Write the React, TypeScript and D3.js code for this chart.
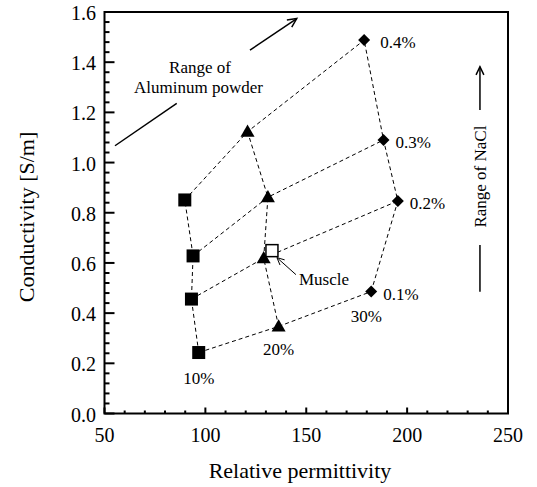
import React from "react";
import * as d3 from "d3";

// ---- data ----
const naclLabels = ["0.1%", "0.2%", "0.3%", "0.4%"];
const alLabels = ["10%", "20%", "30%"];
const perm10 = [96.7, 93.1, 93.9, 89.8];
const cond10 = [0.243, 0.456, 0.628, 0.851];
const perm20 = [136.3, 128.9, 131.0, 120.9];
const cond20 = [0.347, 0.619, 0.862, 1.123];
const perm30 = [182.2, 195.4, 188.3, 178.7];
const cond30 = [0.486, 0.847, 1.09, 1.488];
const musclePerm = 133;
const muscleCond = 0.649;
const xTicks = [50, 100, 150, 200, 250];
const yTicks = [0, 0.2, 0.4, 0.6, 0.8, 1.0, 1.2, 1.4, 1.6];

const W = 537;
const H = 487;
const FONT = "'Liberation Serif', 'Times New Roman', serif";

export default function App() {
  const x = d3.scaleLinear().domain([50, 250]).range([104.5, 508]);
  const y = d3.scaleLinear().domain([0, 1.6]).range([413.5, 12]);
  const line = d3
    .line<[number, number]>()
    .x((d) => x(d[0]))
    .y((d) => y(d[1]));

  const groups = [
    { perm: perm10, cond: cond10 },
    { perm: perm20, cond: cond20 },
    { perm: perm30, cond: cond30 },
  ];

  // dashed polylines: columns (same aluminum) and rows (same NaCl)
  const paths: string[] = [];
  groups.forEach((g) => {
    paths.push(line(g.perm.map((p, i) => [p, g.cond[i]] as [number, number]))!);
  });
  naclLabels.forEach((_, i) => {
    paths.push(line(groups.map((g) => [g.perm[i], g.cond[i]] as [number, number]))!);
  });

  const xMinor = d3.range(50, 250.01, 10);
  const yMinor = d3.range(0, 1.6001, 0.04);

  const sq = 13;
  const tri = d3.symbol().type(d3.symbolTriangle).size(85)();
  const dia = d3.symbol().type(d3.symbolSquare).size(72)();

  const arrowHead = (x1: number, y1: number, x2: number, y2: number, len = 9) => {
    const a = Math.atan2(y2 - y1, x2 - x1);
    const s = 0.45;
    return `M${x2 - len * Math.cos(a - s)},${y2 - len * Math.sin(a - s)}L${x2},${y2}L${
      x2 - len * Math.cos(a + s)
    },${y2 - len * Math.sin(a + s)}`;
  };

  // annotation anchors (data coords)
  const alLow = [[55.2, 1.067], [85.8, 1.236]];
  const alArr = [[122.1, 1.448], [145.3, 1.574]];
  const naX = 236.1;
  const naArr = [1.209, 1.382];
  const naLine = [0.485, 0.671];
  const naText = 0.944;

  const mx = x(musclePerm);
  const my = y(muscleCond);

  return (
    <svg
      width={W}
      height={H}
      style={{ position: "absolute", left: 0, top: 0, background: "#fff" }}
      fontFamily={FONT}
    >
      <rect x={0} y={0} width={W} height={H} fill="#fff" />
      {/* frame */}
      <rect
        x={x(50)}
        y={y(1.6)}
        width={x(250) - x(50)}
        height={y(0) - y(1.6)}
        fill="none"
        stroke="#000"
        strokeWidth={2}
      />
      {/* x ticks */}
      {xMinor.map((v) => {
        const major = xTicks.some((t) => Math.abs(t - v) < 1e-6);
        return (
          <line
            key={"xm" + v}
            x1={x(v)}
            x2={x(v)}
            y1={y(0)}
            y2={y(0) - (major ? 6 : 3)}
            stroke="#000"
            strokeWidth={2}
          />
        );
      })}
      {xTicks.map((v) => (
        <text key={"xt" + v} x={x(v)} y={442} fontSize={20} textAnchor="middle">
          {v}
        </text>
      ))}
      {/* y ticks */}
      {yMinor.map((v, i) => {
        const major = i % 5 === 0;
        return (
          <line
            key={"ym" + i}
            x1={x(50)}
            x2={x(50) + (major ? 10 : 5)}
            y1={y(v)}
            y2={y(v)}
            stroke="#000"
            strokeWidth={2}
          />
        );
      })}
      {yTicks.map((v) => (
        <text key={"yt" + v} x={96} y={y(v) + 8} fontSize={20} textAnchor="end">
          {v.toFixed(1)}
        </text>
      ))}
      {/* axis titles */}
      <text x={300} y={478} fontSize={22} textAnchor="middle">
        Relative permittivity
      </text>
      <text
        transform={`translate(33.5,217) rotate(-90)`}
        fontSize={22}
        textAnchor="middle"
      >
        Conductivity [S/m]
      </text>

      {/* dashed lines */}
      {paths.map((d, i) => (
        <path key={"p" + i} d={d} fill="none" stroke="#000" strokeWidth={1} strokeDasharray="4,3" />
      ))}

      {/* markers */}
      {perm10.map((p, i) => (
        <rect key={"s" + i} x={x(p) - sq / 2} y={y(cond10[i]) - sq / 2} width={sq} height={sq} fill="#000" />
      ))}
      {perm20.map((p, i) => (
        <path key={"t" + i} d={tri!} transform={`translate(${x(p)},${y(cond20[i]) + 1})`} fill="#000" />
      ))}
      {perm30.map((p, i) => (
        <path key={"d" + i} d={dia!} transform={`translate(${x(p)},${y(cond30[i])}) rotate(45)`} fill="#000" />
      ))}
      <rect x={mx - 6} y={my - 6} width={12} height={12} fill="#fff" stroke="#000" strokeWidth={1.5} />

      {/* NaCl labels */}
      {naclLabels.map((l, i) => (
        <text key={"nl" + i} x={x(perm30[i]) + (i === 3 ? 16 : 12)} y={y(cond30[i]) + 8} fontSize={17}>
          {l}
        </text>
      ))}
      {/* Aluminum labels */}
      <text x={x(perm10[0])} y={y(cond10[0]) + 31} fontSize={17} textAnchor="middle">
        {alLabels[0]}
      </text>
      <text x={x(perm20[0])} y={y(cond20[0]) + 29} fontSize={17} textAnchor="middle">
        {alLabels[1]}
      </text>
      <text x={x(perm30[0]) - 5} y={y(cond30[0]) + 30} fontSize={17} textAnchor="middle">
        {alLabels[2]}
      </text>

      {/* Muscle */}
      <line x1={mx + 5} y1={my + 7} x2={mx + 24} y2={my + 24} stroke="#000" strokeWidth={1} />
      <path d={arrowHead(mx + 24, my + 24, mx + 5, my + 7, 8)} fill="none" stroke="#000" strokeWidth={1} />
      <text x={mx + 27} y={my + 34} fontSize={17}>
        Muscle
      </text>

      {/* Aluminum powder range */}
      <line
        x1={x(alLow[0][0])}
        y1={y(alLow[0][1])}
        x2={x(alLow[1][0])}
        y2={y(alLow[1][1])}
        stroke="#000"
        strokeWidth={1.5}
      />
      <line
        x1={x(alArr[0][0])}
        y1={y(alArr[0][1])}
        x2={x(alArr[1][0])}
        y2={y(alArr[1][1])}
        stroke="#000"
        strokeWidth={1.5}
      />
      <path
        d={arrowHead(x(alArr[0][0]), y(alArr[0][1]), x(alArr[1][0]), y(alArr[1][1]), 10)}
        fill="none"
        stroke="#000"
        strokeWidth={1.5}
      />
      <text x={200} y={73} fontSize={17} textAnchor="middle">
        Range of
      </text>
      <text x={198.5} y={93} fontSize={17} textAnchor="middle">
        Aluminum powder
      </text>

      {/* NaCl range */}
      <line x1={x(naX)} x2={x(naX)} y1={y(naArr[0])} y2={y(naArr[1])} stroke="#000" strokeWidth={1.5} />
      <path
        d={arrowHead(x(naX), y(naArr[0]), x(naX), y(naArr[1]), 9)}
        fill="none"
        stroke="#000"
        strokeWidth={1.5}
      />
      <line x1={x(naX)} x2={x(naX)} y1={y(naLine[0])} y2={y(naLine[1])} stroke="#000" strokeWidth={1.5} />
      <text
        transform={`translate(${x(naX) + 6},${y(naText)}) rotate(-90)`}
        fontSize={17}
        textAnchor="middle"
      >
        Range of NaCl
      </text>
    </svg>
  );
}
